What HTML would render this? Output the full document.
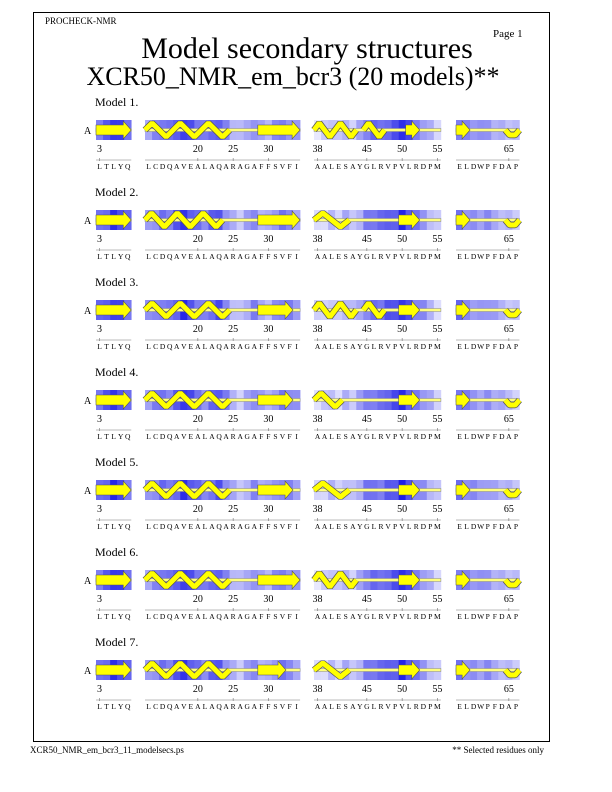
<!DOCTYPE html>
<html><head><meta charset="utf-8">
<style>
body{margin:0;background:#fff;width:612px;height:792px;overflow:hidden;font-family:"Liberation Serif",serif;}
svg{display:block}
</style></head>
<body>
<svg id="page" width="612" height="792" xmlns="http://www.w3.org/2000/svg" font-family="Liberation Serif, serif">
<rect x="33.5" y="12.5" width="516" height="729" fill="none" stroke="#000" stroke-width="1"/>
<text x="45" y="24" font-size="9">PROCHECK-NMR</text>
<text x="493" y="37" font-size="11">Page  1</text>
<text x="307" y="58" font-size="30" text-anchor="middle">Model secondary structures</text>
<text x="293" y="85" font-size="26" text-anchor="middle">XCR50_NMR_em_bcr3 (20 models)**</text>
<text x="30" y="753" font-size="9">XCR50_NMR_em_bcr3_11_modelsecs.ps</text>
<text x="544" y="753" font-size="9" text-anchor="end">** Selected residues only</text>
<g id="rows"></g>
</svg>
<script>
// segments: first residue number and sequence
const segStarts = [3, 13, 38, 58];
const segSeqs = ["LTLYQ", "LCDQAVEALAQARAGAFFSVFI", "AALESAYGLRVPVLRDPM", "ELDWPFDAP"];
const segTicks = [[3], [20, 25, 30], [38, 45, 50, 55], [65]];
// shading intensity (0..1) per residue for each segment
const shade1 = [0.6, 0.7, 0.9, 0.8, 0.6];
const shade2 = [0.4, 0.5, 0.6, 0.55, 0.7, 0.9, 0.75, 0.6, 0.5, 0.65, 0.75, 0.5, 0.3, 0.2, 0.35, 0.5, 0.35, 0.3, 0.45, 0.55, 0.5, 0.4];
const shade3 = [0.1, 0.15, 0.25, 0.15, 0.3, 0.2, 0.35, 0.55, 0.6, 0.6, 0.7, 0.75, 0.95, 0.75, 0.55, 0.45, 0.3, 0.15];
const shade4 = [0.6, 0.5, 0.45, 0.4, 0.45, 0.35, 0.3, 0.25, 0.2];
// secondary structure per model: [type, startResidue, endResidue]
const models = [
 [["E",3,7],["H",13,24],["E",29,34],["H",38,43],["H",45,47],["E",51,52],["E",58,59],["H",65,66]],
 [["E",3,7],["H",13,23],["E",29,34],["H",38,42],["E",50,52],["E",58,59],["H",65,66]],
 [["E",3,7],["H",13,24],["E",29,33],["H",38,43],["H",45,47],["E",50,52],["E",58,59],["H",65,66]],
 [["E",3,7],["H",13,24],["E",29,33],["H",38,41],["E",50,52],["E",58,59],["H",65,66]],
 [["E",3,7],["H",13,24],["E",29,33],["H",38,42],["E",50,52],["E",58,59],["H",65,66]],
 [["E",3,7],["H",13,24],["E",29,34],["H",38,43],["E",50,52],["E",58,59],["H",65,66]],
 [["E",3,7],["H",13,24],["E",29,32],["H",38,42],["E",50,52],["E",58,59],["H",65,66]]
];
const shades = [shade1, shade2, shade3, shade4];
const segX = [96, 145, 314, 456];
const RW = 7.05;
const NS = "http://www.w3.org/2000/svg";
const rows = document.getElementById('rows');
function mk(tag, attrs, parent){const e=document.createElementNS(NS,tag);for(const k in attrs)e.setAttribute(k,attrs[k]);parent.appendChild(e);return e;}
function segOf(r){for(let s=0;s<4;s++){if(r>=segStarts[s]&&r<segStarts[s]+segSeqs[s].length)return s;}return -1;}
function xOf(r){const s=segOf(r);return segX[s]+(r-segStarts[s])*RW;}
function col(v){const r=Math.round(240-v*210),g=Math.round(240-v*210);return `rgb(${r},${g},${Math.round(255-v*25)})`;}
models.forEach((ss,m)=>{
  const y0=120+90*m;
  const g=mk('g',{},rows);
  
  
  const lab=mk('text',{x:95,y:y0-14,'font-size':12},g);lab.textContent='Model  '+(m+1)+'.';
  
  
  const ch=mk('text',{x:84,y:y0+14,'font-size':10},g);ch.textContent='A';
  
  
  for(let s=0;s<4;s++){
    const n=segSeqs[s].length, x0=segX[s];
    const sv=shades[s];
    for(let i=0;i<n;i++){
      const v=Math.max(0,Math.min(1,sv[i]+((m*7+i*3)%5-2)*0.03));
      const c=mk('rect',{x:x0+i*RW,y:y0,width:RW+0.3,height:20,fill:col(v)},g);
      
      
    }
    const ln=mk('rect',{x:x0,y:y0+8.5,width:n*RW,height:3,fill:'#ffff80',stroke:'#888','stroke-width':0.5},g);
    
    
    segTicks[s].forEach(t=>{
      const tx=xOf(t)+RW/2;
      const tt=mk('text',{x:tx,y:y0+32,'font-size':10,'text-anchor':'middle'},g);tt.textContent=t;
      
      
      mk('line',{x1:tx,x2:tx,y1:y0+38,y2:y0+41,stroke:'#555','stroke-width':0.5},g);
    });
    mk('line',{x1:x0,x2:x0+n*RW,y1:y0+40,y2:y0+40,stroke:'#777','stroke-width':0.5},g);
    for(let i=0;i<n;i++){
      const st=mk('text',{x:x0+i*RW+RW/2,y:y0+49,'font-size':7.5,'text-anchor':'middle'},g);st.textContent=segSeqs[s][i];
      
      
    }
  }
  ss.forEach(([t,a,b])=>{
    const xa=xOf(a), xb=xOf(b)+RW, yc=y0+10;
    if(t==='E'){
      const hx=Math.max(xa+2,xb-8);
      const p=mk('polygon',{points:`${xa},${yc-5} ${hx},${yc-5} ${hx},${yc-9} ${xb},${yc} ${hx},${yc+9} ${hx},${yc+5} ${xa},${yc+5}`,fill:'#ffff00',stroke:'#555','stroke-width':0.6},g);
      
      
    } else {
      const w=xb-xa, turns=Math.max(1,Math.round(w/26)), tw=w/turns;
      const amp = w<20 ? 5 : 7;
      let d=`M${xa},${yc}`;
      for(let k=0;k<turns;k++){
        const s0=xa+k*tw;
        if(w<20){ d+=` L${s0+tw*0.3},${yc+amp} L${s0+tw*0.7},${yc+amp} L${s0+tw},${yc}`; }
        else { d+=` L${s0+tw*0.25},${yc-amp} L${s0+tw*0.75},${yc+amp} L${s0+tw},${yc}`; }
      }
      const h=mk('path',{d:d,fill:'none',stroke:'#555','stroke-width':6.5,'stroke-linejoin':'bevel'},g);
      
      
      const h2=mk('path',{d:d,fill:'none',stroke:'#ffff00','stroke-width':5,'stroke-linejoin':'bevel'},g);
      
      
    }
  });
});
</script>
</body></html>
